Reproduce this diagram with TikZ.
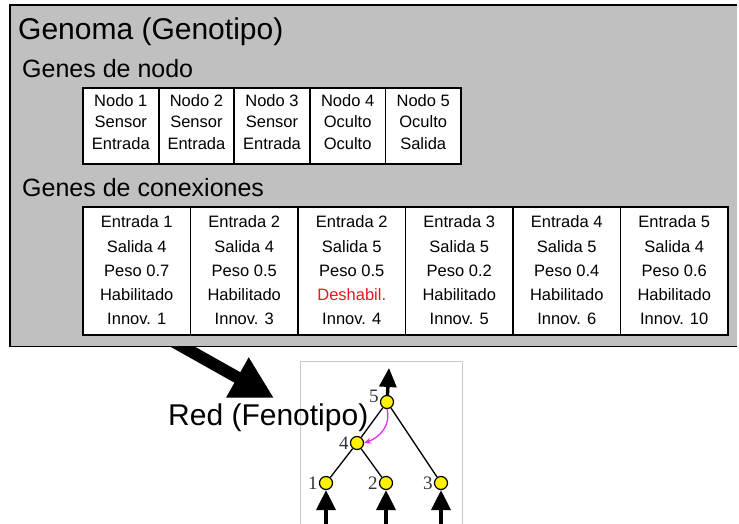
\documentclass[tikz,border=0pt]{standalone}
\usepackage{fontspec}
\setmainfont{Liberation Sans}
\newfontfamily\numfont{Liberation Serif}
\usetikzlibrary{arrows.meta}
\definecolor{genbg}{HTML}{C0C0C0}
\definecolor{offred}{HTML}{E8191E}
\definecolor{linkpink}{HTML}{E82CE8}
\begin{document}
\begin{tikzpicture}[x=1pt,y=-1pt,
  panel/.style={fill=genbg,inner sep=0,anchor=north west},
  heading/.style={anchor=base west,inner sep=0,font=\fontsize{30}{36}\selectfont},
  subheading/.style={anchor=base west,inner sep=0,font=\fontsize{25}{30}\selectfont},
  ncell/.style={draw,line width=1.8pt,fill=white,inner sep=0,minimum width=75.6pt,minimum height=76pt},
  ccell/.style={draw,line width=1.8pt,fill=white,inner sep=0,minimum width=107.5pt,minimum height=128pt},
  txt/.style={anchor=base,inner sep=0,font=\fontsize{16.5}{20}\selectfont},
  neuron/.style={circle,draw,line width=1.2pt,fill=yellow,minimum size=13pt,inner sep=0},
  numlbl/.style={inner sep=0,font=\numfont\fontsize{19}{22}\selectfont,text=black!80},
  edge/.style={line width=1.3pt},
  io/.style={line width=3.4pt,-{Triangle[length=20pt,width=19pt]}},
]
\useasboundingbox (0,0) rectangle (739,523);

% arrow from genotype to phenotype (its tail is hidden under the panel)
\coordinate (gstart) at (160,334);
\coordinate (gtip) at (274,398);
\draw[line width=12pt,-{Triangle[length=42pt,width=43pt]}] (gstart) -- (gtip);

% genome panel, open on the right
\node[panel,minimum width=727pt,minimum height=341pt] (genome) at (10,5) {};
\draw[line width=1.8pt] (genome.north east) -- (genome.north west)
  -- (genome.south west) -- (genome.south east);
\node[heading] (title) at (18,39) {Genoma (Genotipo)};
\node[subheading] (nodehead) at (22,77) {Genes de nodo};
\node[subheading] (connhead) at (22,196) {Genes de conexiones};

% node genes
\foreach \i/\a/\b/\c in {1/Nodo 1/Sensor/Entrada,2/Nodo 2/Sensor/Entrada,
    3/Nodo 3/Sensor/Entrada,4/Nodo 4/Oculto/Oculto,5/Nodo 5/Oculto/Salida}{
  \node[ncell] (n\i) at ({83+75.6*(\i-0.5)},126) {};
  \path (n\i.north) ++(0,19) node[txt] {\a}
        (n\i.north) ++(0,40.5) node[txt] {\b}
        (n\i.north) ++(0,62) node[txt] {\c};
}

% connection genes
\foreach \i/\a/\b/\c/\d/\e in {
    1/Entrada 1/Salida 4/Peso 0.7/Habilitado/Innov. 1,
    2/Entrada 2/Salida 4/Peso 0.5/Habilitado/Innov. 3,
    3/Entrada 2/Salida 5/Peso 0.5/\textcolor{offred}{Deshabil.}/Innov. 4,
    4/Entrada 3/Salida 5/Peso 0.2/Habilitado/Innov. 5,
    5/Entrada 4/Salida 5/Peso 0.4/Habilitado/Innov. 6,
    6/Entrada 5/Salida 4/Peso 0.6/Habilitado/Innov. 10}{
  \node[ccell] (c\i) at ({83+107.5*(\i-0.5)},271) {};
  \path (c\i.north) ++(0,21) node[txt] {\a}
        (c\i.north) ++(0,46) node[txt] {\b}
        (c\i.north) ++(0,70) node[txt] {\c}
        (c\i.north) ++(0,94) node[txt] {\d}
        (c\i.north) ++(0,118) node[txt] {\e};
}

% phenotype network
\begin{scope}
\clip (0,0) rectangle (739,523);
\node[draw=black!22,line width=0.7pt,inner sep=0,minimum width=162pt,minimum height=180pt,anchor=north west] (netframe) at (300,361) {};
\end{scope}
\node[neuron] (v5) at (387,402) {};
\node[neuron] (v4) at (357,443) {};
\node[neuron] (v1) at (326,483) {};
\node[neuron] (v2) at (386,483) {};
\node[neuron] (v3) at (441,483) {};
\draw[edge] (v4) -- (v5);
\draw[edge] (v5) -- (v3);
\draw[edge] (v4) -- (v1);
\draw[edge] (v4) -- (v2);
\coordinate (out) at (389,368);
\draw[io,-{Triangle[length=19pt,width=17pt]}] (v5) -- (out);
\foreach \k in {1,2,3}{
  \coordinate (in\k) at ([yshift=-45pt]v\k.south);
  \draw[io] (in\k) -- (v\k);
}
\draw[linkpink,line width=1.3pt,-{Stealth[length=7pt,width=6pt]}]
  (v5.south) .. controls (391,424) and (381,437) .. (v4.east);
\node[numlbl,anchor=east] (l5) at ([xshift=-1pt,yshift=6pt]v5.west) {5};
\node[numlbl,anchor=east] (l4) at ([xshift=-1pt]v4.west) {4};
\node[numlbl,anchor=east] (l1) at ([xshift=-1pt]v1.west) {1};
\node[numlbl,anchor=east] (l2) at ([xshift=-1pt]v2.west) {2};
\node[numlbl,anchor=east] (l3) at ([xshift=-1pt]v3.west) {3};

\node[heading] (pheno) at (168,425) {Red (Fenotipo)};
\end{tikzpicture}
\end{document}
